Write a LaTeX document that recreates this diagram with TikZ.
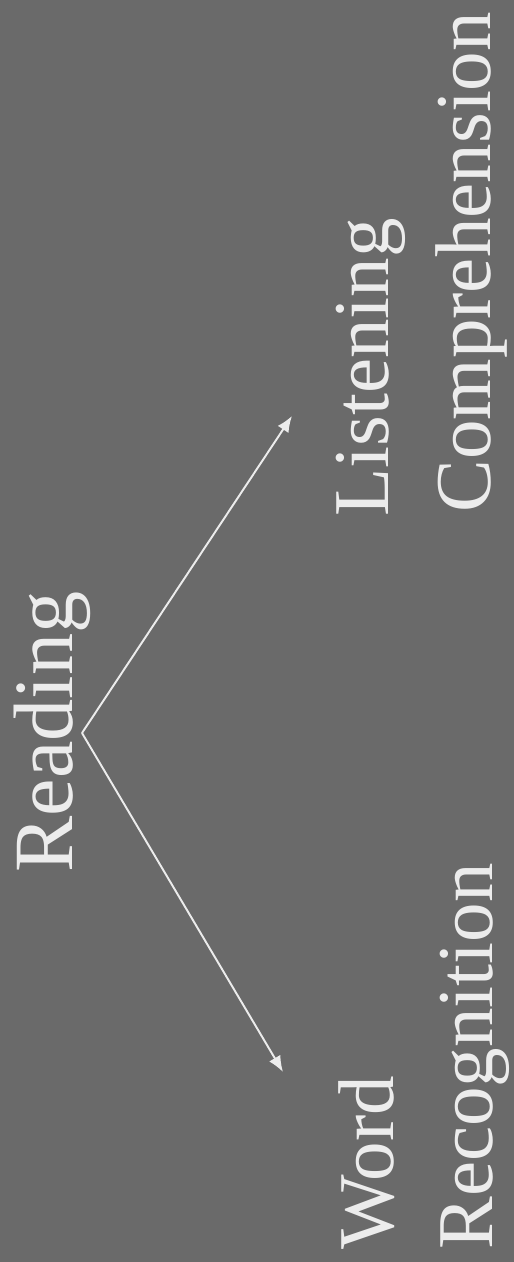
\documentclass[tikz,border=0pt]{standalone}
\usepackage{fontspec}
\setmainfont{Liberation Serif}
\usetikzlibrary{
    arrows.meta,  % For arrow tips
    positioning   % For relative placement
}
\definecolor{slate}{RGB}{106,106,106}
\definecolor{chalk}{RGB}{236,236,236}

\begin{document}
\begin{tikzpicture}[
    x=0.02cm, y=-0.02cm, % one unit = one pixel of the reference, y downwards
    >=Latex, % Set default arrow tip style
    label/.style={rotate=90, anchor=base west, inner sep=0pt, text=chalk,
                  font=\fontsize{45}{54}\selectfont},
    title/.style={label, font=\fontsize{48}{58}\selectfont},
    branch/.style={->, chalk, line width=1.1pt,
                   >={Latex[length=3.2mm, width=2.6mm]}}
]

    % Background
    \fill[slate] (0,0) rectangle (514,1262);
    \useasboundingbox (0,0) rectangle (514,1262);

    % Top concept
    \node[title] (reading) at (72,873) {Reading};

    % Lower branch
    \node[label] (word)  at (393,1250) {Word};
    \node[label] (recog) at (492,1250) {Recognition};

    % Upper branch
    \node[label] (listen) at (388,517) {Listening};
    \node[label] (compr)  at (490,513) {Comprehension};

    % Fork and arrow tips
    \coordinate (fork)     at (82,733);
    \coordinate (wordtip)  at (283,1072);
    \coordinate (listtip)  at (292,416);

    \draw[branch] (fork) -- (listtip);
    \draw[branch] (fork) -- (wordtip);

\end{tikzpicture}
\end{document}
